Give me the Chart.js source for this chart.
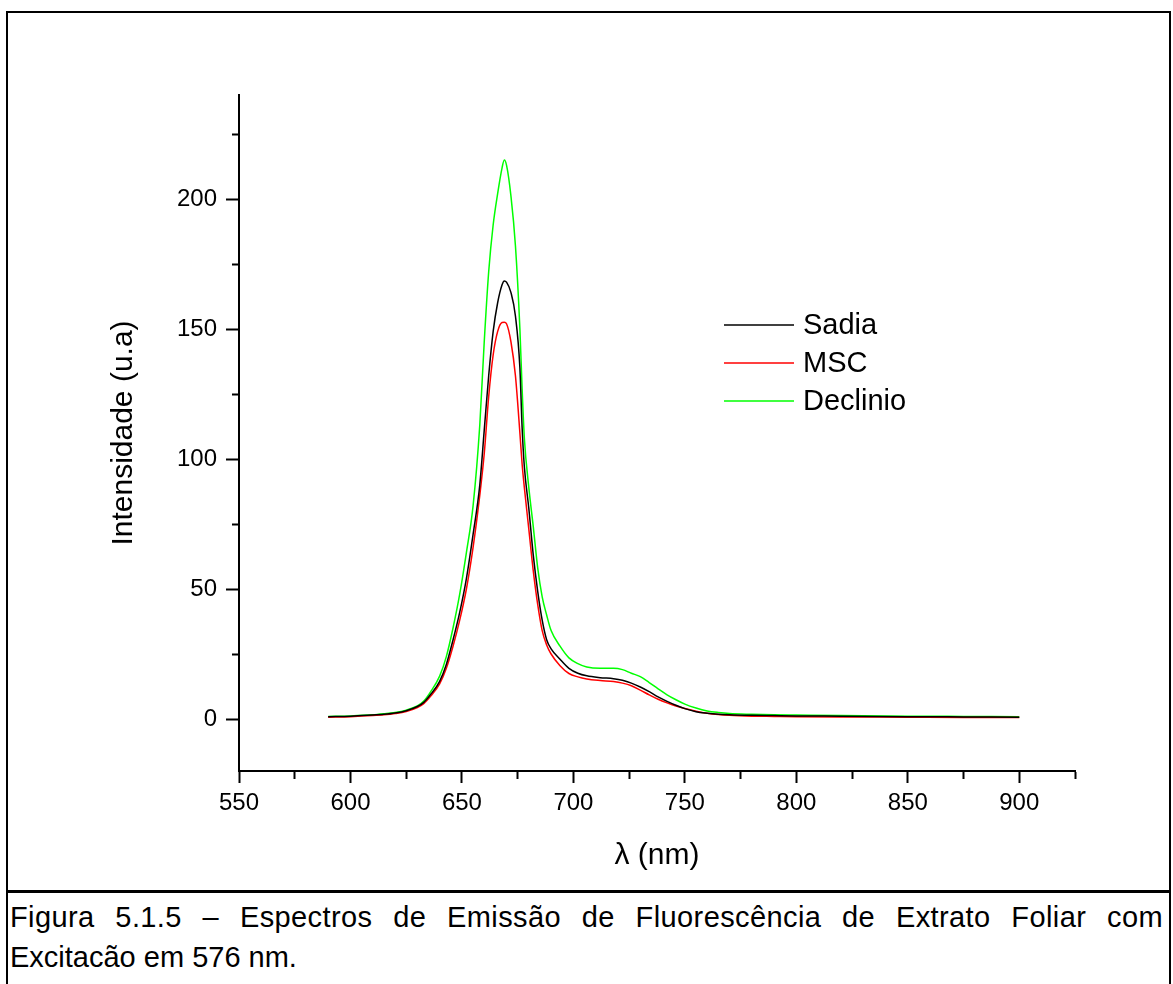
<!DOCTYPE html>
<html>
<head>
<meta charset="utf-8">
<title>Espectros de Emissão de Fluorescência</title>
<script src="https://cdn.jsdelivr.net/npm/chart.js@4"></script>
<style>
  body { margin: 0; background: #fff; }
  #page { position: relative; width: 1173px; height: 984px; overflow: hidden; font-family: "Liberation Sans", Arial, sans-serif; color: #000; }
  #frame { position: absolute; left: 6px; top: 11px; width: 1165px; height: 882px; border: 2px solid #000; border-bottom-width: 3px; box-sizing: border-box; }
  #caption { position: absolute; left: 6px; top: 893px; width: 1165px; height: 120px; border-left: 2px solid #000; border-right: 2px solid #000; box-sizing: border-box; padding: 4px 6px 0 2px; font-size: 29px; line-height: 40px; }
  #caption .l1 { text-align: justify; text-align-last: justify; white-space: nowrap; letter-spacing: 0.4px; }
  #wrap { position: absolute; left: 0; top: 0; width: 1173px; height: 890px; }
</style>
</head>
<body>
<div id="page">
  <div id="frame"></div>
  <div id="wrap"><canvas id="chart"></canvas></div>
  <div id="caption">
    <div class="l1">Figura 5.1.5 – Espectros de Emissão de Fluorescência de Extrato Foliar com</div>
    <div>Excitacão em 576 nm.</div>
  </div>
</div>
<script>
// comprimento de onda (nm)
var wavelengths = [590, 600, 610, 615, 620, 625, 630, 633, 636, 640, 643, 646, 649, 652, 655, 658, 660, 662, 664, 666, 668, 669, 670, 672, 674, 676, 677, 678, 680, 682, 684, 686, 688, 690, 694, 698, 702, 706, 712, 718, 722, 726, 730, 734, 738, 742, 746, 750, 755, 760, 765, 770, 780, 790, 800, 820, 850, 875, 900];

// intensidades (u.a)
var sadia = [0.9, 1.1, 1.5, 1.8, 2.3, 3.2, 4.8, 6.5, 9.5, 14.5, 21, 30.4, 41, 54, 71, 90, 111, 132, 149, 160, 167, 168.5, 168, 164, 155, 135, 112, 97, 81, 63, 49, 38, 30.5, 27, 23, 19.5, 17.6, 16.6, 15.9, 15.5, 14.9, 13.8, 12.3, 10.5, 8.5, 6.8, 5.3, 4.0, 2.8, 2.2, 1.8, 1.6, 1.4, 1.3, 1.2, 1.1, 0.9, 0.8, 0.7];
var msc = [0.7, 0.9, 1.3, 1.6, 2.1, 2.9, 4.4, 6.0, 8.8, 13.5, 19.5, 28, 38, 50, 66, 86, 102, 124, 140, 149, 152.5, 152.6, 152, 145, 132, 110, 98, 89, 73, 57, 44, 34, 28.5, 25, 20.5, 17.5, 16.2, 15.4, 14.8, 14.4, 13.8, 12.8, 11.1, 9.3, 7.6, 6.2, 5.0, 4.0, 3.0, 2.2, 1.7, 1.4, 1.1, 1.0, 0.9, 0.8, 0.7, 0.6, 0.6];
var declinio = [1.0, 1.2, 1.6, 2.0, 2.5, 3.4, 5.0, 7.0, 10.5, 16.5, 24, 35, 48, 64, 82, 113, 145, 172, 190, 202, 212, 215, 213, 201, 182, 150, 127, 108, 89, 74, 58, 47, 40, 34, 28, 23.5, 21.3, 20, 19.5, 19.5, 19, 17.6, 16.3, 14, 11.6, 9.3, 7.4, 5.7, 4.2, 3.1, 2.5, 2.1, 1.8, 1.6, 1.5, 1.3, 1.1, 1.0, 0.9];

var seriesNames = ['Sadia', 'MSC', 'Declinio'];
var seriesColors = ['#000000', '#ff0000', '#00ff00'];

// marcas dos eixos
var xMajorTicks = [550, 600, 650, 700, 750, 800, 850, 900];
var xMinorTicks = [575, 625, 675, 725, 775, 825, 875, 925];
var yMajorTicks = [0, 50, 100, 150, 200];
var yMinorTicks = [25, 75, 125, 175, 225];

var FONT = '"Liberation Sans", Arial, sans-serif';

function toPoints(values) {
    return wavelengths.map(function (x, i) { return { x: x, y: values[i] }; });
}

function setTicks(major, minor) {
    return function (scale) {
        scale.ticks = major.concat(minor).sort(function (a, b) { return a - b; })
            .map(function (v) { return { value: v }; });
    };
}

// legenda dentro da area do grafico
var insideLegend = {
    id: 'insideLegend',
    afterDatasetsDraw: function (chart) {
        var ctx = chart.ctx;
        ctx.save();
        ctx.font = '29px ' + FONT;
        ctx.textBaseline = 'middle';
        chart.data.datasets.forEach(function (ds, i) {
            var y = 325 + i * 38;
            ctx.strokeStyle = ds.borderColor;
            ctx.lineWidth = 1.5;
            ctx.beginPath();
            ctx.moveTo(724, y);
            ctx.lineTo(794, y);
            ctx.stroke();
            ctx.fillStyle = '#000';
            ctx.fillText(ds.label, 803, y + 1);
        });
        ctx.restore();
    }
};

var datasets = [sadia, msc, declinio].map(function (values, i) {
    return {
        label: seriesNames[i],
        data: toPoints(values),
        borderColor: seriesColors[i],
        borderWidth: 1.5,
        pointRadius: 0,
        fill: false,
        cubicInterpolationMode: 'monotone'
    };
});

var ctx = document.getElementById('chart').getContext('2d');

new Chart(ctx, {
    type: 'line',
    data: { datasets: datasets },
    options: {
        responsive: true,
        maintainAspectRatio: false,
        animation: false,
        events: [],
        layout: { padding: { left: 0, top: 95, right: 98, bottom: 0 } },
        plugins: {
            legend: { display: false },
            tooltip: { enabled: false }
        },
        scales: {
            x: {
                type: 'linear',
                min: 550,
                max: 925,
                afterBuildTicks: setTicks(xMajorTicks, xMinorTicks),
                afterFit: function (scale) { scale.height = 119; },
                border: { display: true, color: '#000', width: 2 },
                grid: {
                    drawOnChartArea: false,
                    drawTicks: true,
                    tickLength: 12,
                    tickWidth: 2,
                    tickColor: '#000',
                    tickBorderDash: function (c) {
                        return xMinorTicks.indexOf(c.tick && c.tick.value) >= 0 ? [7, 100] : [];
                    }
                },
                ticks: {
                    autoSkip: false,
                    maxRotation: 0,
                    padding: 6,
                    color: '#000',
                    font: { family: FONT, size: 24 },
                    callback: function (v) { return xMajorTicks.indexOf(v) >= 0 ? String(v) : ''; }
                },
                title: {
                    display: true,
                    text: 'λ (nm)',
                    color: '#000',
                    font: { family: FONT, size: 30 },
                    padding: { top: 0, bottom: 16 }
                }
            },
            y: {
                type: 'linear',
                min: -20,
                max: 240,
                afterBuildTicks: setTicks(yMajorTicks, yMinorTicks),
                afterFit: function (scale) { scale.width = 239; },
                border: { display: true, color: '#000', width: 2 },
                grid: {
                    drawOnChartArea: false,
                    drawTicks: true,
                    tickLength: 13,
                    tickWidth: 2,
                    tickColor: '#000',
                    tickBorderDash: function (c) {
                        return yMinorTicks.indexOf(c.tick && c.tick.value) >= 0 ? [0, 6, 7, 100] : [];
                    }
                },
                ticks: {
                    autoSkip: false,
                    padding: 9,
                    color: '#000',
                    font: { family: FONT, size: 24 },
                    callback: function (v) { return yMajorTicks.indexOf(v) >= 0 ? String(v) : ''; }
                },
                title: {
                    display: true,
                    text: 'Intensidade (u.a)',
                    color: '#000',
                    font: { family: FONT, size: 30 },
                    padding: { top: 106, bottom: 0 }
                }
            }
        }
    },
    plugins: [insideLegend]
});
</script>
</body>
</html>
